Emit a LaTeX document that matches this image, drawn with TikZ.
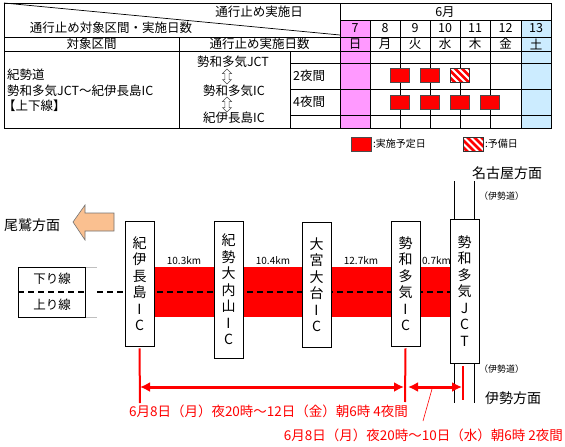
\documentclass[tikz,border=0pt]{standalone}
\usepackage{fontspec}
\setmainfont{Noto Sans CJK JP}
\usetikzlibrary{arrows.meta,shapes.arrows}
\definecolor{pinkcol}{RGB}{255,153,255}
\definecolor{bluecol}{RGB}{204,236,255}
\definecolor{orangearrow}{RGB}{250,192,144}
\begin{document}
\begin{tikzpicture}[x=1pt,y=-1pt,
  grid/.style={line width=0.7pt,draw=black},
  tx/.style={font=\fontsize{12.5}{15}\selectfont,inner sep=0},
  txl/.style={tx,anchor=west},
  small/.style={font=\fontsize{10}{12}\selectfont,inner sep=0},
  redbox/.style={draw=black!70,line width=0.5pt,fill=red,minimum width=19pt,minimum height=14pt,inner sep=0},
  hatchbox/.style={draw=black!80,line width=0.5pt,fill=white,minimum width=19pt,minimum height=14pt,inner sep=0,
    path picture={\foreach \s in {-24,-17,...,24}
      \draw[red,line width=2.6pt] ([xshift=\s pt]path picture bounding box.north west) -- ++(20pt,-20pt);}},
  dblarrow/.style={double arrow,draw=black!70,fill=white,rotate=90,minimum height=15pt,minimum width=9pt,
    double arrow head extend=1.8pt,inner sep=1.4pt,line width=0.5pt},
  icbox/.style={draw=black,line width=0.8pt,fill=white,minimum width=29pt,inner sep=0,align=center,
    font=\fontsize{14}{16.5}\selectfont},
  dist/.style={font=\fontsize{10}{12}\selectfont,inner sep=0,anchor=south},
  redtxt/.style={text=red,font=\fontsize{13.5}{16}\selectfont,inner sep=0},
  redarrow/.style={red,line width=3pt,{Latex[length=10pt,width=10pt]}-{Latex[length=10pt,width=10pt]}},
  redline/.style={red,line width=2pt}]
\useasboundingbox (0,0) rectangle (565,447);

% ---------------- table ----------------
\fill[pinkcol] (340,20) rectangle (370,128);
\fill[bluecol] (521,20) rectangle (551,128);
\draw[grid] (340,3) -- (340,128);
\draw[grid] (340,20) -- (551,20);
\draw[grid] (4,37) -- (551,37);
\draw[grid] (4,51) -- (551,51);
\foreach \x in {370,400,430,460,490,521} \draw[grid] (\x,20) -- (\x,128);
\draw[grid] (179,37) -- (179,128);
\draw[grid] (290,51) -- (290,128);
\foreach \y in {63,89,115} \draw[grid] (290,\y) -- (551,\y);
\draw[grid] (4,3) -- (340,35);
\draw[line width=0.9pt] (4,3) rectangle (551,128);

\node[tx] (hdrA) at (259,12) {通行止め実施日};
\node[tx] (hdrB) at (111,28) {通行止め対象区間・実施日数};
\node[tx] (month) at (445,12) {6月};
\foreach \xc/\d/\w [count=\i] in {355/7/日,385/8/月,415/9/火,445/10/水,475/11/木,505.5/12/金,536/13/土}{
  \node[tx] (day\i) at (\xc,28) {\d};
  \node[tx] (wd\i) at (\xc,44) {\w};
}
\node[tx] (colA) at (91.5,44) {対象区間};
\node[tx] (colB) at (259.5,44) {通行止め実施日数};
\node[txl] (secA) at (7,75) {紀勢道};
\node[txl] (secB) at (7,90.5) {勢和多気JCT～紀伊長島IC};
\node[txl] (secC) at (3,106) {【上下線】};
\node[tx] (pA) at (233,62) {勢和多気JCT};
\node[tx] (pB) at (234,91) {勢和多気IC};
\node[tx] (pC) at (234,118) {紀伊長島IC};
\node[dblarrow] (da1) at (227,76.5) {};
\node[dblarrow] (da2) at (227,104.5) {};
\node[txl] (n2) at (293,76) {2夜間};
\node[txl] (n4) at (293,102) {4夜間};

\node[redbox] (r21) at (400,75) {};
\node[redbox] (r22) at (430,75) {};
\node[hatchbox] (h23) at (460,75) {};
\foreach \xc [count=\i] in {400,430,460,490} \node[redbox] (r4\i) at (\xc,102) {};

% legend
\node[redbox,minimum width=20pt] (lgR) at (361,144) {};
\node[small,anchor=west] (lgRt) at (373,144) {:実施予定日};
\node[hatchbox,minimum width=20pt] (lgH) at (473,144) {};
\node[small,anchor=west] (lgHt) at (485,144) {:予備日};

% ---------------- road diagram ----------------
\node[font=\fontsize{14}{16}\selectfont,inner sep=0,anchor=west] (owase) at (4,225) {尾鷲方面};
\draw[draw=black!55,fill=orangearrow,line width=0.6pt] (73,222) -- (85,205) -- (85,213) -- (114,213)
  -- (114,231) -- (85,231) -- (85,240) -- cycle;

\fill[red] (150,267) rectangle (452,317);
\draw[black!25,line width=0.6pt] (85,267) -- (97,267) (85,317) -- (97,317);
\draw[line width=0.8pt] (18,267) rectangle (85,317);
\draw[dash pattern=on 6pt off 4pt,line width=2pt] (18,292) -- (85,292);
\draw[dash pattern=on 6pt off 4pt,line width=2pt] (97,292) -- (452,292);
\node[tx] (down) at (52,279) {下り線};
\node[tx] (up) at (52,305) {上り線};

\node[dist] (d1) at (184,265) {10.3km};
\node[dist] (d2) at (273,265) {10.4km};
\node[dist] (d3) at (361,265) {12.7km};
\node[dist] (d4) at (436.5,265) {0.7km};

\node[icbox,minimum height=125pt] (kii) at (139.5,283.5) {紀\\伊\\長\\島\\I\\C};
\node[icbox,minimum height=137pt] (kisei) at (228.5,289.5) {紀\\勢\\大\\内\\山\\I\\C};
\node[icbox,minimum height=125pt] (omiya) at (316.5,284.5) {大\\宮\\大\\台\\I\\C};
\node[icbox,minimum height=125pt] (seiwa) at (405.5,283.5) {勢\\和\\多\\気\\I\\C};
\node[icbox,minimum height=144pt] (jct) at (464.5,291) {勢\\和\\多\\気\\J\\C\\T};

% JCT branches
\coordinate (jTopL) at (454,181);
\coordinate (jTopR) at (474,181);
\coordinate (jBotL) at (454,403);
\coordinate (jBotR) at (474,403);
\draw[line width=0.8pt] (jTopL) -- (jTopL |- jct.north) (jTopR) -- (jTopR |- jct.north);
\draw[line width=0.8pt] (jBotL |- jct.south) -- (jBotL) (jBotR |- jct.south) -- (jBotR);
\coordinate (jRed1) at (463,366);
\coordinate (jRed2) at (463,400);
\draw[redline] (jRed1) -- (jRed2);

\node[font=\fontsize{14}{16}\selectfont,inner sep=0,anchor=west] (nagoya) at (472,173) {名古屋方面};
\node[small,font=\fontsize{9}{11}\selectfont,anchor=west] (iseA) at (479,196) {（伊勢道）};
\node[small,font=\fontsize{9}{11}\selectfont,anchor=west] (iseB) at (479,369) {（伊勢道）};
\node[font=\fontsize{14}{16}\selectfont,inner sep=0,anchor=west] (ise) at (485,398) {伊勢方面};

% red period lines
\coordinate (kEnd) at (140,403);
\coordinate (sEnd) at (405,402);
\draw[redline] ([yshift=-2pt]kii.south) -- (kEnd);
\draw[redline] ([yshift=-2pt]seiwa.south) -- (sEnd);
\coordinate (a1L) at (140,387);
\coordinate (a1R) at (404,387);
\coordinate (a2L) at (408,387);
\coordinate (a2R) at (462,387);
\draw[redarrow] (a1L) -- (a1R);
\draw[redarrow] (a2L) -- (a2R);

\node[redtxt] (p4) at (268.5,411) {6月8日（月）夜20時～12日（金）朝6時 4夜間};
\node[redtxt,anchor=east] (p2) at (563,435) {6月8日（月）夜20時～10日（水）朝6時 2夜間};
\coordinate (lead1) at (432,389);
\coordinate (lead2) at (423,421);
\draw[red,line width=0.6pt] (lead1) -- (lead2);
\end{tikzpicture}
\end{document}
